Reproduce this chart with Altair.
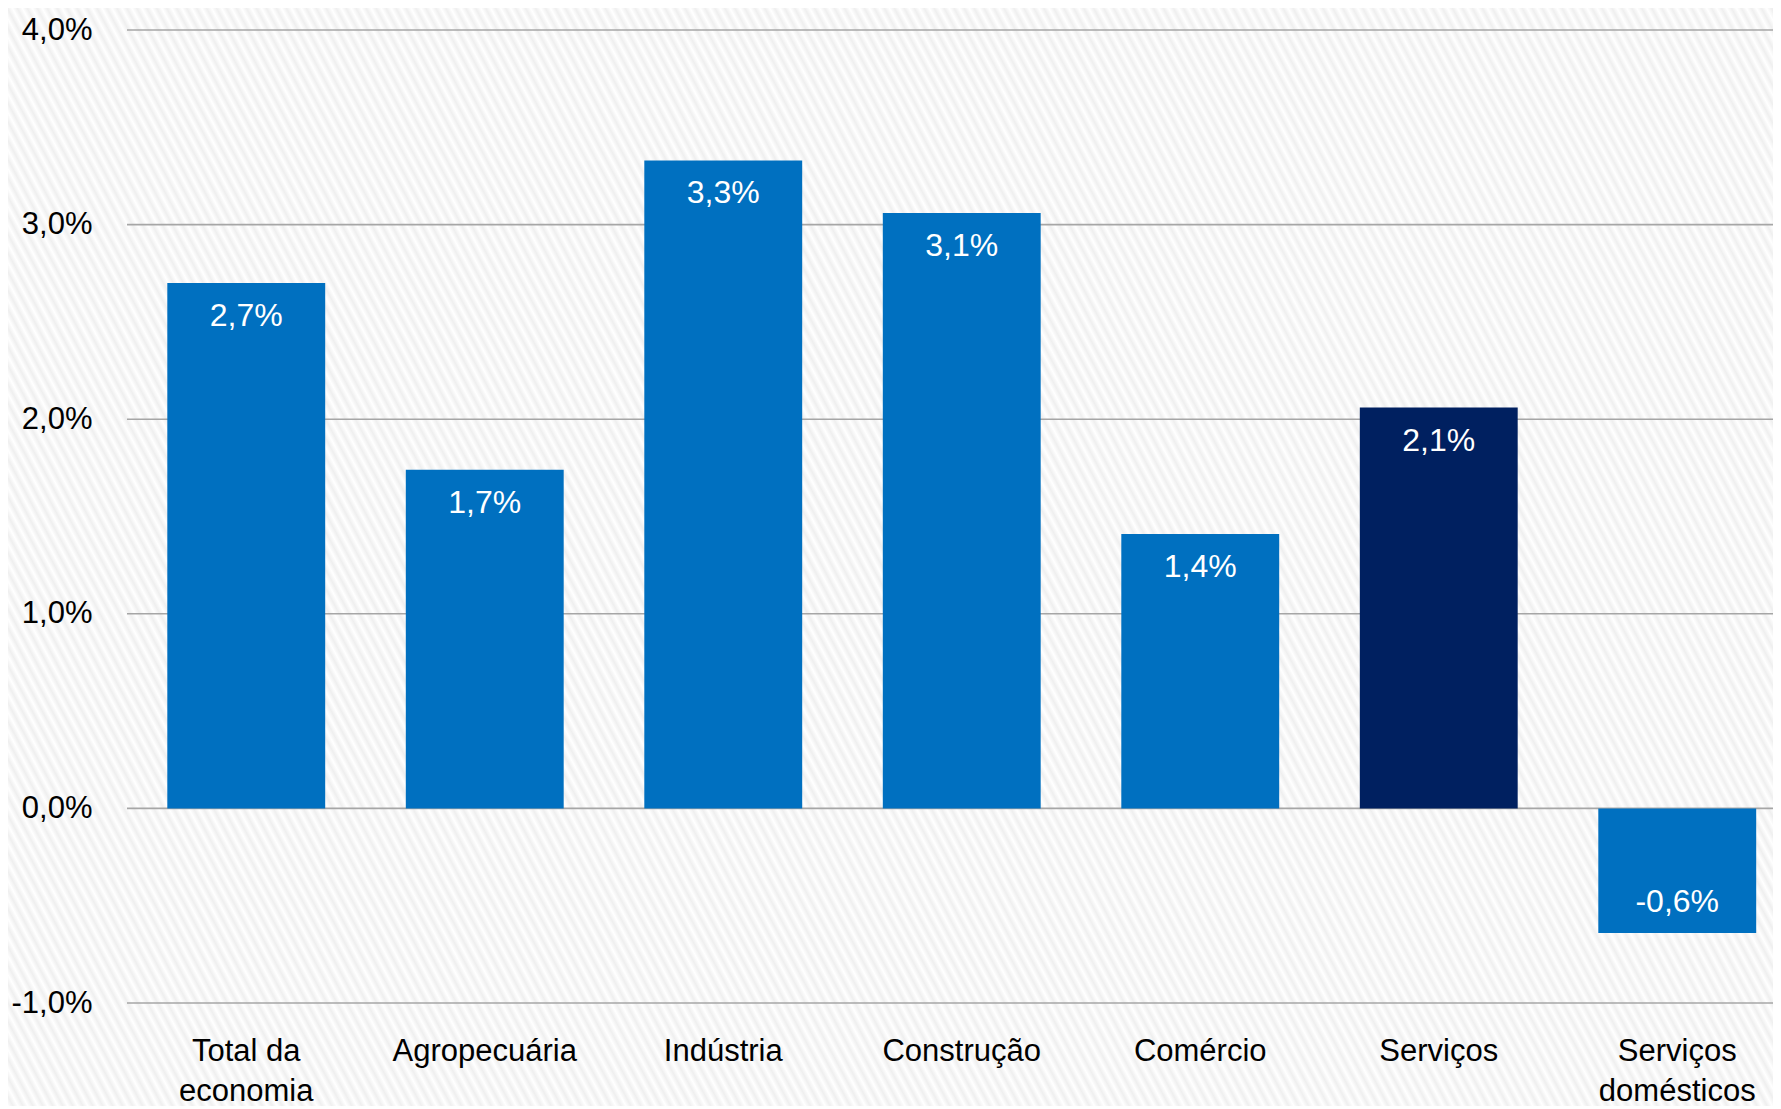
import math
import altair as alt
import pandas as pd

categories = ["Total da\neconomia", "Agropecuária", "Indústria", "Construção",
              "Comércio", "Serviços", "Serviços\ndomésticos"]
values = [2.70, 1.74, 3.33, 3.06, 1.41, 2.06, -0.64]
bar_colors = ["#0070C0", "#0070C0", "#0070C0", "#0070C0", "#0070C0", "#002060", "#0070C0"]
y_ticks = [-1, 0, 1, 2, 3, 4]

df = pd.DataFrame({"cat": categories, "value": values, "color": bar_colors})
ticks_df = pd.DataFrame({"tick": y_ticks})

FONT = "Liberation Sans Narrow, Arial Narrow, Liberation Sans, Arial, sans-serif"
PCT = "(datum.value < 0 ? '-' : '') + replace(format(abs(datum.value), '.1f'), '.', ',') + '%'"

PLOT_W, PLOT_H = 1646, 973
PAD_L, PAD_T, PAD_B = 119, 22, 103
BG_W, BG_H = PLOT_W + PAD_L, PLOT_H + PAD_T + PAD_B

# diagonal stripe background (style only)
alpha = math.radians(62)
sa, ca = math.sin(alpha), math.cos(alpha)
gx, gy = sa / BG_H, -ca / BG_W
k = (sa / BG_H + ca / BG_W) / (gx ** 2 + gy ** 2)
x1, y1, x2, y2 = 0.0, 1.0, k * gx, 1.0 + k * gy
D = BG_W * sa + BG_H * ca
period = 8.8
stops = []
i = 0
while i * period / D <= 1:
    stops.append({"offset": min(1, i * period / D), "color": "#ffffff"})
    o = (i + 0.5) * period / D
    if o <= 1:
        stops.append({"offset": o, "color": "#efefef"})
    i += 1
gradient = {"gradient": "linear", "x1": x1, "y1": y1, "x2": x2, "y2": y2, "stops": stops}

bg = alt.Chart(alt.Data(values=[{"a": 1}])).mark_rect(fill=gradient, strokeWidth=0).encode(
    x=alt.value(-PAD_L), x2=alt.value(PLOT_W), y=alt.value(-PAD_T), y2=alt.value(PLOT_H + PAD_B)
)

step = 238.5
xscale = alt.Scale(range=[0, step * len(categories)], paddingInner=0.338, paddingOuter=0.169)
yscale = alt.Scale(domain=[-1, 4], nice=False, zero=False)

grid = alt.Chart(ticks_df).mark_rule(color="#a6a6a6", strokeWidth=1.6).encode(
    y=alt.Y("tick:Q", scale=yscale), x=alt.value(0), x2=alt.value(PLOT_W)
)

base = alt.Chart(df)

bars = base.mark_bar().encode(
    x=alt.X("cat:N", sort=None, scale=xscale, title=None,
            axis=alt.Axis(domain=False, ticks=False, labelAngle=0, labelFont=FONT,
                          labelFontSize=31, labelColor="#000000", labelPadding=33,
                          labelLineHeight=40, labelLimit=400, zindex=2,
                          labelExpr="split(datum.label, '\\n')")),
    y=alt.Y("value:Q", scale=yscale, title=None,
            axis=alt.Axis(values=y_ticks, domain=False, ticks=False, grid=False,
                          labelFont=FONT, labelFontSize=31, labelColor="#000000",
                          labelPadding=35, labelLimit=400, zindex=2, labelExpr=PCT)),
    color=alt.Color("color:N", scale=None, legend=None),
)

lab = base.transform_calculate(label=PCT)
pos_text = lab.transform_filter("datum.value >= 0").mark_text(
    font=FONT, fontSize=32, color="white", baseline="middle", dy=33
).encode(x=alt.X("cat:N", sort=None, scale=xscale), y=alt.Y("value:Q", scale=yscale), text="label:N")
neg_text = lab.transform_filter("datum.value < 0").mark_text(
    font=FONT, fontSize=32, color="white", baseline="middle", dy=-31
).encode(x=alt.X("cat:N", sort=None, scale=xscale), y=alt.Y("value:Q", scale=yscale), text="label:N")

chart = alt.layer(bg, grid, bars, pos_text, neg_text).properties(
    width=PLOT_W, height=PLOT_H,
    autosize=alt.AutoSizeParams(type="none"),
    padding={"left": PAD_L, "top": PAD_T, "right": 0, "bottom": PAD_B},
    background="white",
).configure_view(stroke=None)

chart.save("out.html", embed_options={"renderer": "svg", "actions": False})
